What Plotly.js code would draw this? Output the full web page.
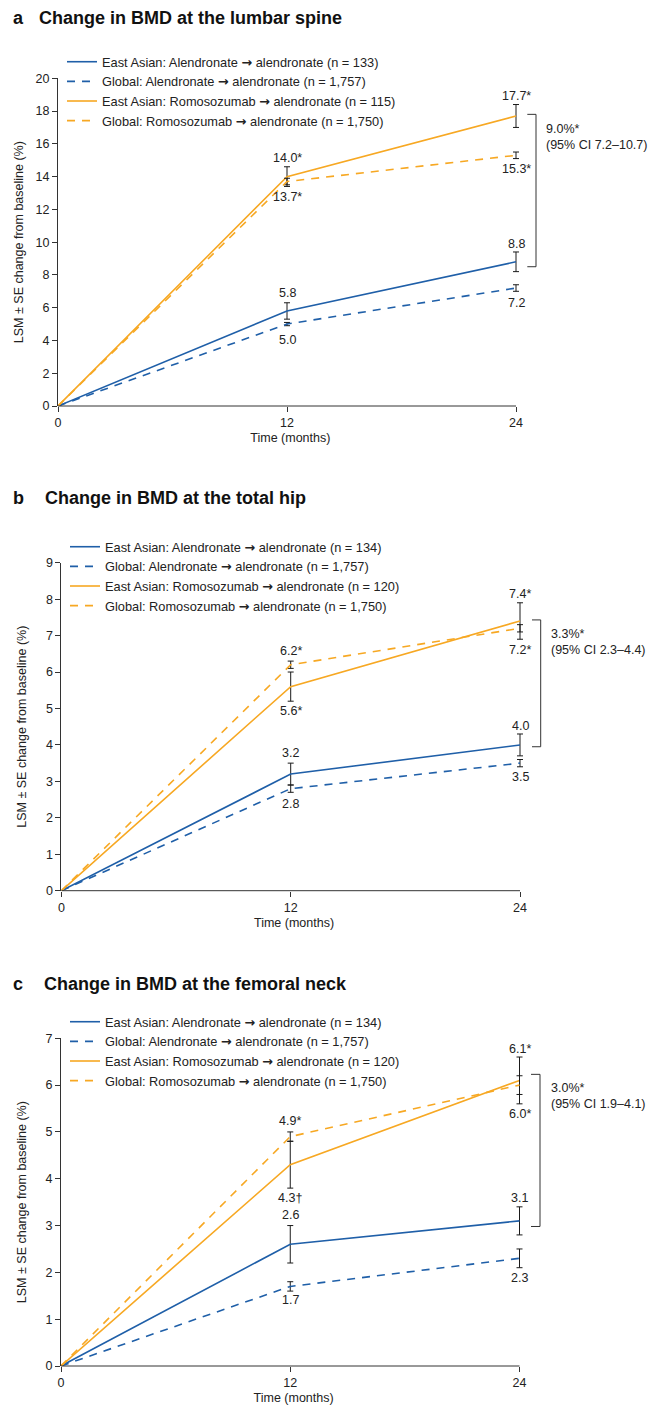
<!DOCTYPE html>
<html><head><meta charset="utf-8">
<script src="https://cdn.plot.ly/plotly-3.0.1.min.js"></script>
<style>html,body{margin:0;padding:0;background:#fff}#chart{width:649px;height:1406px}</style>
</head><body><div id="chart"></div>
<script>
// ---------- DATA ----------
const months = [0, 12, 24];
const seriesKeys = ["EAAln", "GlAln", "EARomo", "GlRomo"];
const ARROW = "<span style=\"font-family:DejaVu Sans;font-weight:bold\">\u2192</span>";

// a: lumbar spine
const spineNames = ["East Asian: Alendronate " + ARROW + " alendronate (n = 133)",
  "Global: Alendronate " + ARROW + " alendronate (n = 1,757)",
  "East Asian: Romosozumab " + ARROW + " alendronate (n = 115)",
  "Global: Romosozumab " + ARROW + " alendronate (n = 1,750)"];
const spineEAAln = [0, 5.8, 8.8];
const spineEAAlnSE = [NaN, 0.5, 0.6];
const spineGlAln = [0, 5.0, 7.2];
const spineGlAlnSE = [NaN, 0.1, 0.2];
const spineEARomo = [0, 14.0, 17.7];
const spineEARomoSE = [NaN, 0.6, 0.7];
const spineGlRomo = [0, 13.7, 15.3];
const spineGlRomoSE = [NaN, 0.2, 0.2];
const spineMarks = {EAAln: ["", ""], GlAln: ["", ""], EARomo: ["*", "*"], GlRomo: ["*", "*"]};
const spineDiff = ["9.0%*", "(95% CI 7.2\u201310.7)"];

// b: total hip
const hipNames = ["East Asian: Alendronate " + ARROW + " alendronate (n = 134)",
  "Global: Alendronate " + ARROW + " alendronate (n = 1,757)",
  "East Asian: Romosozumab " + ARROW + " alendronate (n = 120)",
  "Global: Romosozumab " + ARROW + " alendronate (n = 1,750)"];
const hipEAAln = [0, 3.2, 4.0];
const hipEAAlnSE = [NaN, 0.3, 0.3];
const hipGlAln = [0, 2.8, 3.5];
const hipGlAlnSE = [NaN, 0.1, 0.1];
const hipEARomo = [0, 5.6, 7.4];
const hipEARomoSE = [NaN, 0.4, 0.5];
const hipGlRomo = [0, 6.2, 7.2];
const hipGlRomoSE = [NaN, 0.1, 0.1];
const hipMarks = {EAAln: ["", ""], GlAln: ["", ""], EARomo: ["*", "*"], GlRomo: ["*", "*"]};
const hipDiff = ["3.3%*", "(95% CI 2.3\u20134.4)"];

// c: femoral neck
const neckNames = ["East Asian: Alendronate " + ARROW + " alendronate (n = 134)",
  "Global: Alendronate " + ARROW + " alendronate (n = 1,757)",
  "East Asian: Romosozumab " + ARROW + " alendronate (n = 120)",
  "Global: Romosozumab " + ARROW + " alendronate (n = 1,750)"];
const neckEAAln = [0, 2.6, 3.1];
const neckEAAlnSE = [NaN, 0.4, 0.3];
const neckGlAln = [0, 1.7, 2.3];
const neckGlAlnSE = [NaN, 0.1, 0.2];
const neckEARomo = [0, 4.3, 6.1];
const neckEARomoSE = [NaN, 0.5, 0.5];
const neckGlRomo = [0, 4.9, 6.0];
const neckGlRomoSE = [NaN, 0.1, 0.2];
const neckMarks = {EAAln: ["", ""], GlAln: ["", ""], EARomo: ["\u2020", "*"], GlRomo: ["*", "*"]};
const neckDiff = ["3.0%*", "(95% CI 1.9\u20134.1)"];

const xTickVals = [0, 12, 24];
const xEnd = 24;
const xTitle = "Time (months)";
const yTitle = "LSM \u00b1 SE change from baseline (%)";

// ---------- LAYOUT CONFIG (positions / styles) ----------
const W = 649, H = 1406;
const px = v => v / W;
const py = v => 1 - v / H;
const XPAD = 0.35;            // small extra range so end-point error bars are not clipped
const FONT = "Liberation Sans, Arial, Helvetica, sans-serif";
const TXT = "#222";
const BLUE = "#1f5fa8", ORANGE = "#f7a823";
const styles = {
  EAAln: {color: BLUE, dash: "solid"},
  GlAln: {color: BLUE, dash: "8px,7px"},
  EARomo: {color: ORANGE, dash: "solid"},
  GlRomo: {color: ORANGE, dash: "8px,7px"}
};

const panels = [
  {letter: "a", title: "Change in BMD at the lumbar spine", names: spineNames,
   data: {EAAln: [spineEAAln, spineEAAlnSE], GlAln: [spineGlAln, spineGlAlnSE], EARomo: [spineEARomo, spineEARomoSE], GlRomo: [spineGlRomo, spineGlRomoSE]},
   marks: spineMarks, diff: spineDiff, yMax: 20, dtick: 2,
   xDom: [58, 516], yDom: [406, 78.3], titleY: 18.3, letterX: 11, titleX: 36.5,
   legend: {x: 62, y: 46.9}, yStand: 9,
   offsets: {EAAln: [18, 18], GlAln: [-16, -15], EARomo: [19, 20], GlRomo: [-15, -14]},
   bracket: {top: 17.8, bot: 8.5, left: 527.3, vert: 536, textX: 544, textY: 16.4}},
  {letter: "b", title: "Change in BMD at the total hip", names: hipNames,
   data: {EAAln: [hipEAAln, hipEAAlnSE], GlAln: [hipGlAln, hipGlAlnSE], EARomo: [hipEARomo, hipEARomoSE], GlRomo: [hipGlRomo, hipGlRomoSE]},
   marks: hipMarks, diff: hipDiff, yMax: 9, dtick: 1,
   xDom: [61.4, 520], yDom: [890.7, 562.7], titleY: 498.3, letterX: 11, titleX: 42.7,
   legend: {x: 65, y: 531.9}, yStand: 16,
   offsets: {EAAln: [21, 19], GlAln: [-15, -14], EARomo: [-24, 27], GlRomo: [14, -22]},
   bracket: {top: 7.43, bot: 3.95, left: 532, vert: 540.7, textX: 549, textY: 6.83}},
  {letter: "c", title: "Change in BMD at the femoral neck", names: neckNames,
   data: {EAAln: [neckEAAln, neckEAAlnSE], GlAln: [neckGlAln, neckGlAlnSE], EARomo: [neckEARomo, neckEARomoSE], GlRomo: [neckGlRomo, neckGlRomoSE]},
   marks: neckMarks, diff: neckDiff, yMax: 7, dtick: 1,
   xDom: [61, 519.5], yDom: [1366, 1038.3], titleY: 984, letterX: 11, titleX: 41.5,
   legend: {x: 65, y: 1006.9}, yStand: 16,
   offsets: {EAAln: [29, 23], GlAln: [-14, -20], EARomo: [-33, 31], GlRomo: [16, -29]},
   bracket: {top: 6.23, bot: 2.98, left: 531, vert: 540, textX: 549, textY: 5.77}}
];

const traces = [];
const layout = {
  width: W, height: H, margin: {l: 0, r: 0, t: 0, b: 0},
  paper_bgcolor: "#fff", plot_bgcolor: "#fff",
  font: {family: FONT, size: 12.5, color: TXT},
  showlegend: true, annotations: [], shapes: []
};

panels.forEach((p, i) => {
  const n = i === 0 ? "" : String(i + 1);
  const xa = "x" + n, ya = "y" + n, lg = "legend" + n;
  seriesKeys.forEach((k, j) => {
    const [vals, se] = p.data[k];
    traces.push({
      type: "scatter", mode: "lines", x: months, y: vals,
      name: p.names[j], xaxis: xa, yaxis: ya, legend: lg,
      line: {color: styles[k].color, dash: styles[k].dash, width: 1.6},
      error_y: {type: "data", array: se, visible: true, color: "#1a1a1a", thickness: 1, width: 3},
      hoverinfo: "x+y"
    });
    // value labels at months 12 and 24
    [1, 2].forEach(m => {
      layout.annotations.push({
        xref: xa, yref: ya, x: months[m], y: vals[m],
        text: vals[m].toFixed(1) + p.marks[k][m - 1],
        showarrow: false, xanchor: "center", yanchor: "middle",
        yshift: p.offsets[k][m - 1], font: {size: 12.5, color: TXT}
      });
    });
  });
  // x domain extended a little past 24 so the month-24 error bars are fully visible
  const pxPerUnit = (p.xDom[1] - p.xDom[0]) / xEnd;
  layout["xaxis" + n] = {
    domain: [px(p.xDom[0]), px(p.xDom[1] + XPAD * pxPerUnit)], anchor: ya, range: [0, xEnd + XPAD],
    tickvals: xTickVals, ticks: "outside", ticklen: 5, tickcolor: "#333",
    showline: false, showgrid: false, zeroline: false,
    tickfont: {size: 12.5, color: TXT}, fixedrange: true,
    title: {text: xTitle, standoff: 4, font: {size: 12.5, color: TXT}}
  };
  layout["yaxis" + n] = {
    domain: [py(p.yDom[0]), py(p.yDom[1])], anchor: xa, range: [0, p.yMax], dtick: p.dtick,
    ticks: "outside", ticklen: 5, tickcolor: "#333",
    showline: true, linecolor: "#333", linewidth: 1, showgrid: false, zeroline: false,
    tickfont: {size: 12.5, color: TXT}, fixedrange: true,
    title: {text: yTitle, standoff: p.yStand, font: {size: 12.5, color: TXT}}
  };
  // x axis line from 0 to 24 only
  layout.shapes.push({type: "line", xref: xa, yref: ya + " domain", x0: 0, x1: xEnd, y0: 0, y1: 0,
    line: {color: "#333", width: 1}});
  layout[lg] = {
    x: px(p.legend.x), y: py(p.legend.y), xanchor: "left", yanchor: "top",
    bgcolor: "rgba(0,0,0,0)", borderwidth: 0, itemwidth: 30,
    font: {size: 12.8, color: TXT}, traceorder: "normal"
  };
  // panel letter and title
  layout.annotations.push({xref: "paper", yref: "paper", x: px(p.letterX), y: py(p.titleY),
    xanchor: "left", yanchor: "middle", showarrow: false, text: "<b>" + p.letter + "</b>",
    font: {size: 18, color: "#111"}});
  layout.annotations.push({xref: "paper", yref: "paper", x: px(p.titleX), y: py(p.titleY),
    xanchor: "left", yanchor: "middle", showarrow: false, text: "<b>" + p.title + "</b>",
    font: {size: 18, color: "#111"}});
  // bracket for treatment difference
  const b = p.bracket;
  const ln = {color: "#333", width: 1};
  layout.shapes.push({type: "line", xref: "paper", yref: ya, x0: px(b.left), x1: px(b.vert), y0: b.top, y1: b.top, line: ln});
  layout.shapes.push({type: "line", xref: "paper", yref: ya, x0: px(b.vert), x1: px(b.vert), y0: b.top, y1: b.bot, line: ln});
  layout.shapes.push({type: "line", xref: "paper", yref: ya, x0: px(b.left), x1: px(b.vert), y0: b.bot, y1: b.bot, line: ln});
  layout.annotations.push({xref: "paper", yref: ya, x: px(b.textX), y: b.textY,
    xanchor: "left", yanchor: "middle", align: "left", showarrow: false,
    text: p.diff.join("<br>"), font: {size: 12.5, color: TXT}});
});

Plotly.newPlot("chart", traces, layout, {displayModeBar: false, staticPlot: true});
</script>
</body></html>
